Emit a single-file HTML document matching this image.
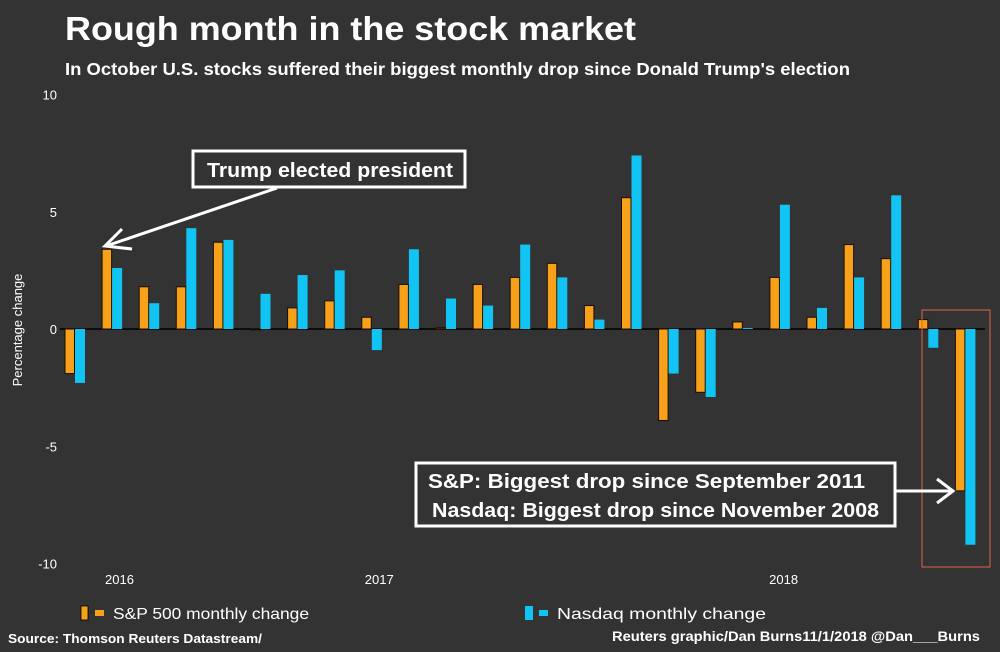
<!DOCTYPE html>
<html><head><meta charset="utf-8"><style>
body{margin:0;background:#333333;}
svg{display:block;font-family:"Liberation Sans",sans-serif;}
</style></head><body>
<svg id="chart" width="1000" height="652" viewBox="0 0 1000 652">
<rect x="0" y="0" width="1000" height="652" fill="#333333"/>
<text x="65" y="40" font-size="33" font-weight="bold" fill="#ffffff" textLength="571" lengthAdjust="spacingAndGlyphs">Rough month in the stock market</text>
<text x="65" y="75" font-size="17.5" font-weight="bold" fill="#ffffff" textLength="785" lengthAdjust="spacingAndGlyphs">In October U.S. stocks suffered their biggest monthly drop since Donald Trump's election</text>
<text x="22" y="330" font-size="13" fill="#ffffff" text-anchor="middle" transform="rotate(-90 22 330)">Percentage change</text>
<g id="yticks"></g>
<g id="bars"></g>
<g id="years"></g>
<rect x="922" y="310" width="68" height="257" fill="none" stroke="#e0604a" stroke-width="1"/>
<g>
<rect x="193" y="151" width="272" height="36" fill="#333333" stroke="#ffffff" stroke-width="3"/>
<text x="207" y="177" font-size="20" font-weight="bold" fill="#ffffff" textLength="246" lengthAdjust="spacingAndGlyphs">Trump elected president</text>
<line x1="277" y1="188" x2="106" y2="246" stroke="#ffffff" stroke-width="3"/>
<polyline points="122,229 105,246 132,249" fill="none" stroke="#ffffff" stroke-width="3"/>
</g>
<g>
<rect x="416" y="463" width="479" height="63" fill="#333333" stroke="#ffffff" stroke-width="3"/>
<text x="428" y="488" font-size="20" font-weight="bold" fill="#ffffff" textLength="437" lengthAdjust="spacingAndGlyphs">S&amp;P: Biggest drop since September 2011</text>
<text x="432" y="517" font-size="20" font-weight="bold" fill="#ffffff" textLength="447" lengthAdjust="spacingAndGlyphs">Nasdaq: Biggest drop since November 2008</text>
<line x1="896" y1="491" x2="953" y2="491" stroke="#ffffff" stroke-width="3"/>
<polyline points="937,479 953,491 937,503" fill="none" stroke="#ffffff" stroke-width="3"/>
</g>
<g>
<rect x="81" y="606" width="7" height="14" fill="#f7a11a" stroke="#000" stroke-width="0.8"/>
<rect x="95" y="610" width="9" height="6" fill="#f7a11a"/>
<text x="113" y="619" font-size="16" fill="#ffffff" textLength="196" lengthAdjust="spacingAndGlyphs">S&amp;P 500 monthly change</text>
</g>
<g>
<rect x="525" y="606" width="8" height="14" fill="#11c4f3"/>
<rect x="539" y="610" width="9" height="6" fill="#11c4f3"/>
<text x="557" y="619" font-size="16" fill="#ffffff" textLength="209" lengthAdjust="spacingAndGlyphs">Nasdaq monthly change</text>
</g>
<text x="8" y="643" font-size="13" font-weight="bold" fill="#ffffff" textLength="254" lengthAdjust="spacingAndGlyphs">Source: Thomson Reuters Datastream/</text>
<text x="612" y="641" font-size="13.5" font-weight="bold" fill="#ffffff" textLength="368" lengthAdjust="spacingAndGlyphs">Reuters graphic/Dan Burns11/1/2018 @Dan___Burns</text>
</svg>
<script>
const months = ["Oct16","Nov16","Dec16","Jan17","Feb17","Mar17","Apr17","May17","Jun17","Jul17","Aug17","Sep17","Oct17","Nov17","Dec17","Jan18","Feb18","Mar18","Apr18","May18","Jun18","Jul18","Aug18","Sep18","Oct18"];
const sp500 = [-1.9,3.4,1.8,1.8,3.7,-0.04,0.9,1.2,0.5,1.9,0.05,1.9,2.2,2.8,1.0,5.6,-3.9,-2.7,0.3,2.2,0.5,3.6,3.0,0.4,-6.9];
const nasdaq = [-2.3,2.6,1.1,4.3,3.8,1.5,2.3,2.5,-0.9,3.4,1.3,1.0,3.6,2.2,0.4,7.4,-1.9,-2.9,0.04,5.3,0.9,2.2,5.7,-0.8,-9.2];
const yTicks = [10,5,0,-5,-10];
const yearLabels = ["2016","2017","2018"];
const yearIndex = [1.2,8.2,19.1];

const NS="http://www.w3.org/2000/svg";
function y(v){return 329 - v*23.45;}
function xc(i){return 75 + i*37.1;}
function mk(tag,attrs,parent){const e=document.createElementNS(NS,tag);for(const k in attrs)e.setAttribute(k,attrs[k]);parent.appendChild(e);return e;}
const yt=document.getElementById('yticks');
yTicks.forEach(t=>{
  const e=mk('text',{x:57,y:y(t)+5,'font-size':13,fill:'#ffffff','text-anchor':'end'},yt);
  e.textContent=t;
  
  
});
const bars=document.getElementById('bars');
const zl=mk('line',{x1:60,x2:985,y1:y(0),y2:y(0),stroke:'#000',"stroke-width":1.5},bars);


months.forEach((m,i)=>{
  const a=sp500[i], b=nasdaq[i];
  const r1=mk('rect',{x:xc(i)-10,y:Math.min(y(a),y(0)),width:9.5,height:Math.max(Math.abs(y(a)-y(0)),0.5),fill:'#f7a11a',stroke:'#1a0d00','stroke-width':1},bars);
  
  
  const r2=mk('rect',{x:xc(i),y:Math.min(y(b),y(0)),width:10,height:Math.max(Math.abs(y(b)-y(0)),0.5),fill:'#11c4f3'},bars);
  
  
});
const yr=document.getElementById('years');
yearLabels.forEach((l,i)=>{
  const e=mk('text',{x:xc(yearIndex[i]),y:584,'font-size':13,fill:'#ffffff','text-anchor':'middle'},yr);
  e.textContent=l;
  
  
});
</script>
</body></html>
